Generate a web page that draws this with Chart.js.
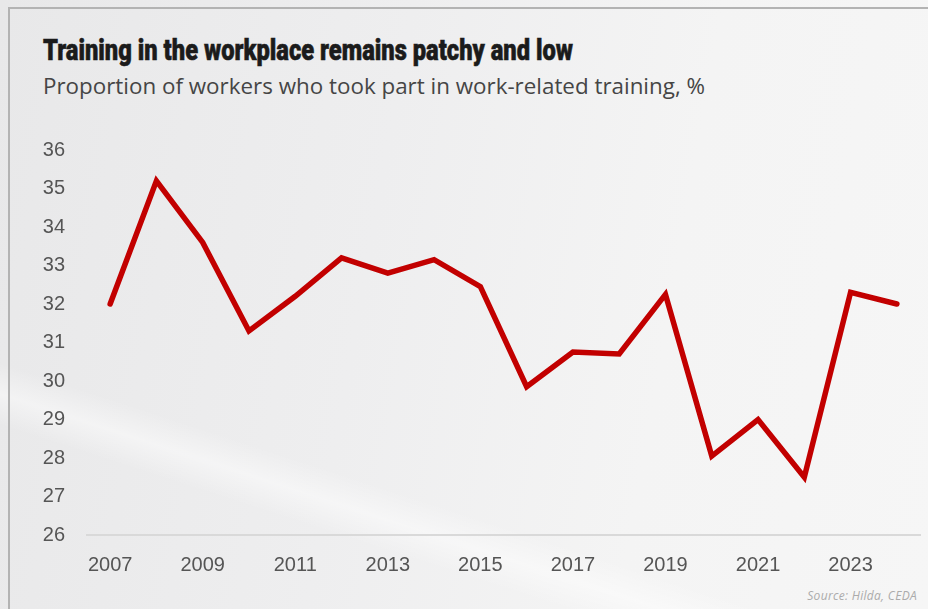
<!DOCTYPE html>
<html>
<head>
<meta charset="utf-8">
<script src="https://cdn.jsdelivr.net/npm/chart.js@4.4.1/dist/chart.umd.min.js"></script>
<style>
  html, body { margin: 0; padding: 0; }
  body {
    width: 928px; height: 609px; overflow: hidden; position: relative;
    background: linear-gradient(100deg, #e8e8e9 0%, #eeeeef 40%, #f4f4f4 70%, #f6f6f6 100%);
  }
  .streak {
    position: absolute; left: -100px; top: 330px; width: 900px; height: 60px;
    background: linear-gradient(180deg, rgba(255,255,255,0) 0%, rgba(255,255,255,0.45) 50%, rgba(255,255,255,0) 100%);
    transform: rotate(18deg); transform-origin: left top;
  }
  .frame {
    position: absolute; left: 8px; top: 7px; right: -10px; bottom: -10px;
    border-left: 2px solid #b3b3b3; border-top: 2px solid #b3b3b3;
  }
  #title {
    position: absolute; left: 43px; top: 35px; white-space: nowrap;
    font-family: Roboto, sans-serif; font-weight: 900; font-size: 30px; line-height: 30px;
    color: #1b1b1b; -webkit-text-stroke: 0.6px #1b1b1b; transform-origin: left top;
  }
  #subtitle {
    position: absolute; left: 43px; top: 76px; white-space: nowrap;
    font-family: "Open Sans", sans-serif; font-weight: 400; font-size: 21px; line-height: 21px;
    color: #454545; transform-origin: left top;
  }
  #source {
    position: absolute; right: 11px; top: 590px; white-space: nowrap;
    font-family: "Open Sans", sans-serif; font-style: italic; font-size: 12px; line-height: 12px;
    letter-spacing: 0.3px; color: #ababab;
  }
  #wrap { position: absolute; left: 0; top: 0; width: 928px; height: 609px; }
</style>
</head>
<body>
<div class="streak"></div>
<div class="frame"></div>
<div id="title">Training in the workplace remains patchy and low</div>
<div id="subtitle">Proportion of workers who took part in work-related training, %</div>
<div id="source">Source: Hilda, CEDA</div>
<div id="wrap"><canvas id="chart" width="928" height="609"></canvas></div>
<script>
// data
const years = ["2007", "2008", "2009", "2010", "2011", "2012", "2013", "2014", "2015",
  "2016", "2017", "2018", "2019", "2020", "2021", "2022", "2023", "2024"];
const training = [32.0, 35.2, 33.6, 31.3, 32.2, 33.2, 32.8, 33.15, 32.45,
  29.85, 30.75, 30.7, 32.25, 28.05, 29.0, 27.5, 32.3, 32.0];
const yMin = 26;
const yMax = 36;

// fit judul ke lebar aslinya
function fitWidth(id, target) {
  const el = document.getElementById(id);
  const w = el.getBoundingClientRect().width;
  el.style.transform = "scaleX(" + (target / w) + ")";
}
fitWidth("title", 530);
fitWidth("subtitle", 662);

const tickFont = { family: "'Liberation Sans', Arial, sans-serif", size: 20 };

new Chart(document.getElementById("chart").getContext("2d"), {
  type: "line",
  data: {
    labels: years,
    datasets: [{
      data: training,
      borderColor: "#c20000",
      borderWidth: 5.5,
      borderCapStyle: "round",
      borderJoinStyle: "miter",
      pointRadius: 0,
      tension: 0,
      fill: false,
    }],
  },
  options: {
    responsive: false,
    animation: false,
    layout: { padding: { left: 0, right: 8, top: 150, bottom: 0 } },
    plugins: { legend: { display: false }, tooltip: { enabled: false } },
    scales: {
      x: {
        offset: true,
        grid: { display: false, drawTicks: false },
        border: { display: true, color: "#d9d9d9", width: 2 },
        ticks: {
          autoSkip: false,
          maxRotation: 0,
          padding: 18,
          color: "#555555",
          font: tickFont,
          callback: function (v, i) { return i % 2 === 0 ? this.getLabelForValue(v) : ""; },
        },
        afterFit: (s) => { s.height = 74; },
      },
      y: {
        min: yMin,
        max: yMax,
        grid: { display: false, drawTicks: false },
        border: { display: false },
        ticks: { stepSize: 1, padding: 22, color: "#555555", font: tickFont },
        afterFit: (s) => { s.width = 87; },
      },
    },
  },
});
</script>
</body>
</html>
